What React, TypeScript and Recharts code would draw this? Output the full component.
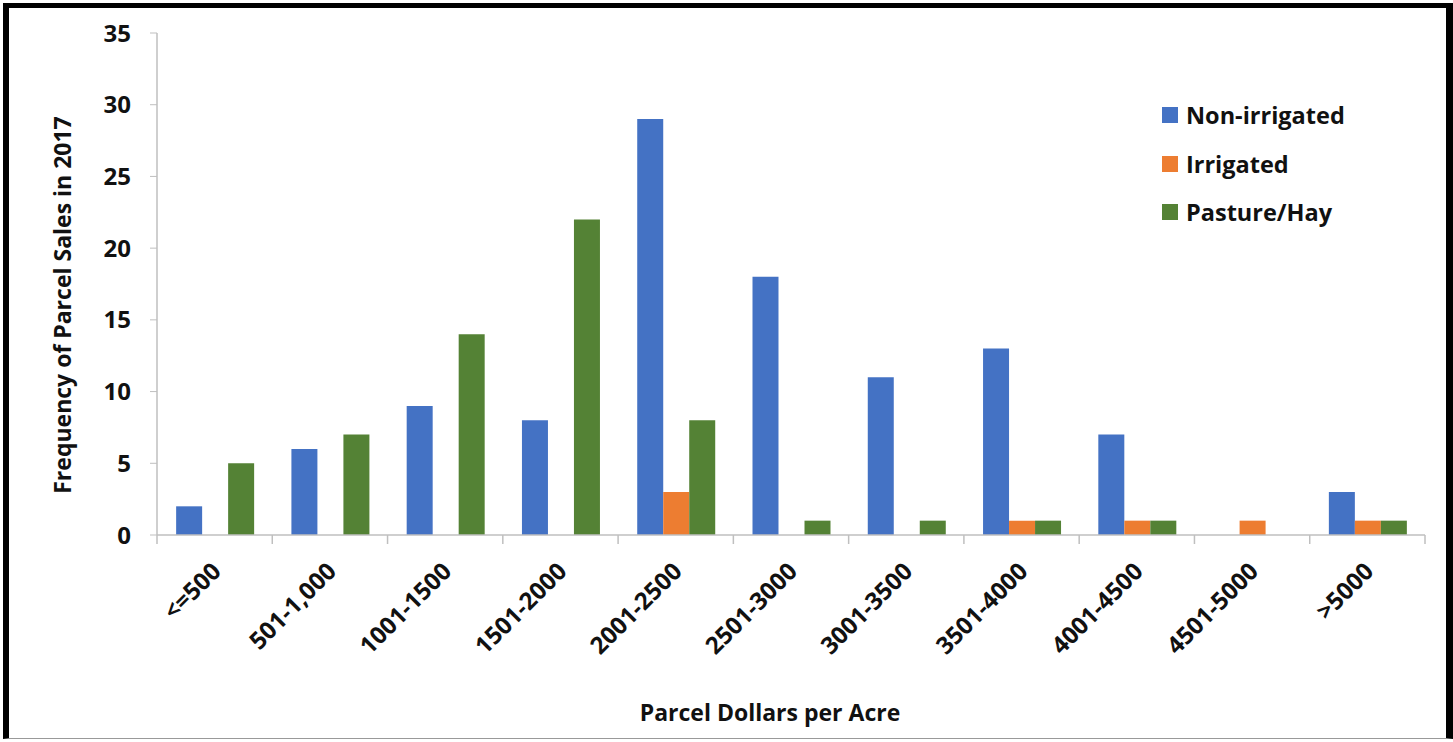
import { BarChart, Bar, XAxis, YAxis } from "recharts";

const categories = [
  "<=500",
  "501-1,000",
  "1001-1500",
  "1501-2000",
  "2001-2500",
  "2501-3000",
  "3001-3500",
  "3501-4000",
  "4001-4500",
  "4501-5000",
  ">5000",
];
const nonIrrigated = [2, 6, 9, 8, 29, 18, 11, 13, 7, 0, 3];
const irrigated = [0, 0, 0, 0, 3, 0, 0, 1, 1, 1, 1];
const pastureHay = [5, 7, 14, 22, 8, 1, 1, 1, 1, 0, 1];
const yTicks = [0, 5, 10, 15, 20, 25, 30, 35];

const SERIES = [
  { key: "nonIrrigated", name: "Non-irrigated", color: "#4472C4" },
  { key: "irrigated", name: "Irrigated", color: "#ED7D31" },
  { key: "pastureHay", name: "Pasture/Hay", color: "#548235" },
];

const FONT = "'Open Sans', 'Liberation Sans', sans-serif";
const AXIS_GREY = "#bfbfbf";

// plot box
const PLOT_LEFT = 157;
const PLOT_RIGHT = 1425;
const PLOT_TOP = 33;
const PLOT_BOTTOM = 535;

const data = categories.map((c, i) => ({
  range: c,
  nonIrrigated: nonIrrigated[i],
  irrigated: irrigated[i],
  pastureHay: pastureHay[i],
}));

function RangeTick(props: any) {
  const { x, y, payload } = props;
  return (
    <text
      transform={`translate(${x + 1}, ${y + 23}) rotate(-45)`}
      textAnchor="end"
      dominantBaseline="central"
      fontFamily={FONT}
      fontWeight={700}
      fontSize={24}
      fill="#111"
    >
      {payload.value}
    </text>
  );
}

export default function App() {
  const catWidth = (PLOT_RIGHT - PLOT_LEFT) / categories.length;
  return (
    <div
      style={{
        position: "absolute",
        top: 0,
        left: 0,
        width: 1453,
        height: 742,
        background: "#fff",
      }}
    >
      <BarChart
        width={1453}
        height={742}
        data={data}
        margin={{ top: PLOT_TOP, right: 1453 - PLOT_RIGHT, bottom: 77, left: PLOT_LEFT - 60 }}
        barCategoryGap="16.6%"
        barGap={0}
      >
        <XAxis
          dataKey="range"
          interval={0}
          height={742 - PLOT_BOTTOM - 77}
          tick={<RangeTick />}
          tickLine={false}
          axisLine={{ stroke: AXIS_GREY, strokeWidth: 1.5 }}
        />
        <YAxis
          domain={[0, 35]}
          ticks={yTicks}
          width={60}
          tickSize={7}
          tickMargin={19}
          tickLine={{ stroke: AXIS_GREY }}
          axisLine={{ stroke: AXIS_GREY, strokeWidth: 1.5 }}
          tick={{ fontFamily: FONT, fontWeight: 700, fontSize: 24, fill: "#111" }}
        />
        {SERIES.map((s) => (
          <Bar key={s.key} dataKey={s.key} name={s.name} fill={s.color} isAnimationActive={false} />
        ))}
        {/* category boundary ticks below the baseline */}
        {categories.concat([""]).map((_, i) => {
          const x = PLOT_LEFT + i * catWidth;
          return (
            <line key={i} x1={x} x2={x} y1={PLOT_BOTTOM} y2={PLOT_BOTTOM + 9} stroke={AXIS_GREY} strokeWidth={1.5} />
          );
        })}
        <text
          transform="translate(62, 305) rotate(-90)"
          textAnchor="middle"
          dominantBaseline="central"
          fontFamily={FONT}
          fontWeight={700}
          fontSize={23}
          fill="#111"
        >
          Frequency of Parcel Sales in 2017
        </text>
        <text
          x={770}
          y={712}
          textAnchor="middle"
          dominantBaseline="central"
          fontFamily={FONT}
          fontWeight={700}
          fontSize={23}
          fill="#111"
        >
          Parcel Dollars per Acre
        </text>
      </BarChart>

      {/* legend */}
      <div
        style={{
          position: "absolute",
          left: 1162,
          top: 91,
          fontFamily: FONT,
          fontWeight: 700,
          fontSize: 23.5,
          color: "#111",
        }}
      >
        {SERIES.map((s) => (
          <div key={s.key} style={{ display: "flex", alignItems: "center", height: 48.5 }}>
            <span style={{ width: 16, height: 16, background: s.color, marginRight: 8 }} />
            {s.name}
          </div>
        ))}
      </div>

      {/* frame */}
      <div
        style={{
          position: "absolute",
          left: 3,
          top: 3,
          width: 1437,
          height: 730,
          borderLeft: "6px solid #000",
          borderTop: "5px solid #000",
          borderRight: "7px solid #000",
          borderBottom: "1px solid #999",
          pointerEvents: "none",
        }}
      />
    </div>
  );
}
